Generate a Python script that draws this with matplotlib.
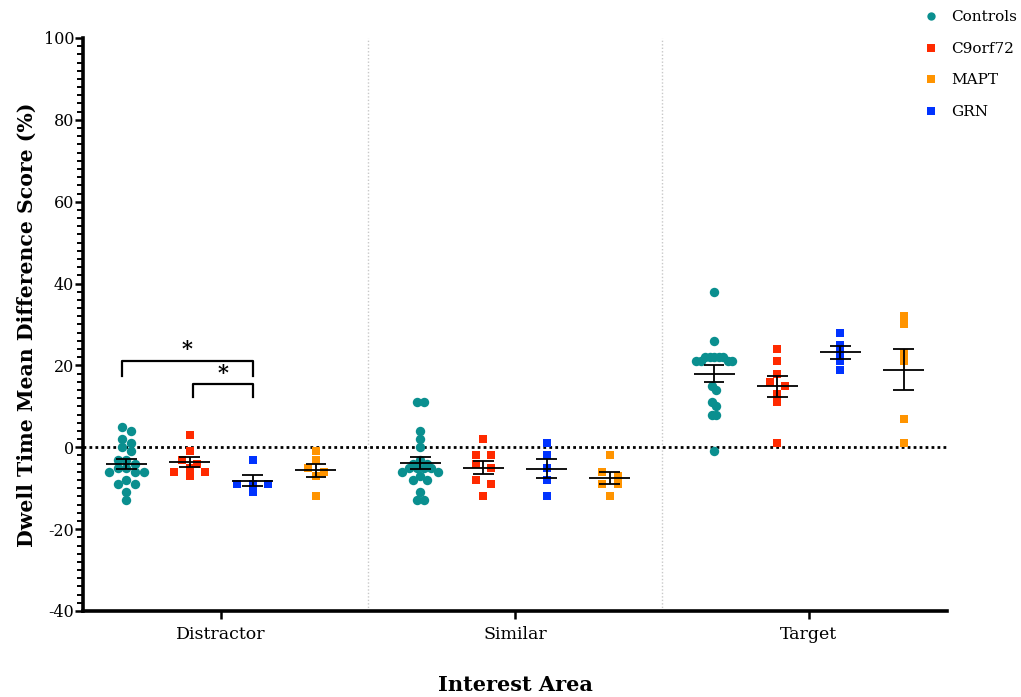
import numpy as np
import matplotlib
matplotlib.use('Agg')
import matplotlib.pyplot as plt
from matplotlib.lines import Line2D

plt.rcParams['font.family'] = ['DejaVu Serif']
plt.rcParams['axes.unicode_minus'] = False

areas = ['Distractor', 'Similar', 'Target']
groups = ['Controls', 'C9orf72', 'GRN', 'MAPT']

# one list per interest area (Distractor, Similar, Target)
controls = [
    [5, 4, 2, 1, 0, -1, -3, -3, -4, -5, -5, -6, -6, -6, -8, -9, -9, -11, -13],
    [11, 11, 4, 2, 0, -3, -4, -4, -5, -5, -5, -5, -6, -6, -7, -8, -8, -11, -13, -13],
    [38, 26, 22, 22, 22, 22, 22, 21, 21, 21, 21, 15, 14, 11, 10, 8, 8, -1],
]
c9orf72 = [
    [3, -1, -3, -4, -5, -6, -6, -7],
    [2, -2, -2, -4, -5, -8, -9, -12],
    [24, 21, 18, 16, 15, 13, 11, 1],
]
grn = [
    [-3, -9, -9, -9, -11],
    [1, -2, -5, -8, -12],
    [28, 25, 23, 21, 19],
]
mapt = [
    [-1, -3, -5, -6, -7, -12],
    [-2, -6, -7, -9, -9, -12],
    [32, 30, 23, 21, 7, 1],
]

data = {'Controls': controls, 'C9orf72': c9orf72, 'GRN': grn, 'MAPT': mapt}
colors = {'Controls': '#0a8f8f', 'C9orf72': '#ff2a00', 'GRN': '#0033ff', 'MAPT': '#ff9400'}
markers = {'Controls': 'o', 'C9orf72': 's', 'GRN': 's', 'MAPT': 's'}
offsets = {'Controls': -0.3225, 'C9orf72': -0.1075, 'GRN': 0.1075, 'MAPT': 0.3225}

XLIM = (-0.47, 2.47)
YLIM = (-40, 100)

fig = plt.figure(figsize=(10.21, 6.97), dpi=100)
ax = fig.add_axes([0.0813, 0.1234, 0.8462, 0.8221])
ax.set_xlim(*XLIM)
ax.set_ylim(*YLIM)

# pixels per x unit, used to spread the points of a column sideways
bbox = ax.get_window_extent()
PPU_X = bbox.width / (XLIM[1] - XLIM[0])


def scatter_offsets(vals, step, max_width=36.0, row_h=2.0):
    # group values into rows (values less than row_h apart share a row),
    # then centre each row sideways; squeeze the step if the widest row is too wide
    order = np.argsort(-np.asarray(vals, float), kind='stable')
    rows = []
    for i in order:
        if rows and vals[rows[-1][0]] - vals[i] < row_h - 1e-9:
            rows[-1].append(i)
        else:
            rows.append([i])
    widest = max(len(r) for r in rows)
    if widest > 1:
        step = min(step, max_width / (widest - 1))
    xs = np.zeros(len(vals))
    for r in rows:
        n = len(r)
        slots = sorted([k - (n - 1) / 2 for k in range(n)], key=lambda p: (abs(p), p))
        for i, p in zip(r, slots):
            xs[i] = p * step
    return xs / PPU_X


# area separators and zero line
for xv in (0.5, 1.5):
    ax.axvline(xv, color='#c8c8c8', ls=(0, (1, 1.5)), lw=1.0, zorder=0)
ax.axhline(0, color='black', ls=(0, (1, 1.15)), lw=2.0, zorder=1)

for ai, area in enumerate(areas):
    for g in groups:
        vals = np.array(data[g][ai], float)
        xc = ai + offsets[g]
        if g == 'Controls':
            dx = scatter_offsets(vals, 8.7)
        else:
            dx = scatter_offsets(vals, 15.5)
        ax.scatter(xc + dx, vals, s=46 if g == 'Controls' else 38, marker=markers[g],
                   color=colors[g], linewidths=0, zorder=2)
        m = vals.mean()
        se = vals.std(ddof=1) / np.sqrt(len(vals))
        ax.hlines(m, xc - 0.07, xc + 0.07, color='black', lw=1.3, zorder=3)
        ax.vlines(xc, m - se, m + se, color='black', lw=1.3, zorder=3)
        ax.hlines([m - se, m + se], xc - 0.035, xc + 0.035, color='black', lw=1.3, zorder=3)

# significance brackets
ax.plot([-0.338, -0.338, 0.1075, 0.1075], [17.5, 21, 21, 17.5], color='black', lw=1.6, zorder=3)
ax.plot([-0.0965, -0.0965, 0.1075, 0.1075], [12.2, 15.5, 15.5, 12.2], color='black', lw=1.6, zorder=3)
ax.text(-0.116, 24.0, '*', ha='center', va='center', fontsize=15, fontweight='bold')
ax.text(0.007, 18.2, '*', ha='center', va='center', fontsize=15, fontweight='bold')

ax.set_xticks(range(len(areas)))
ax.set_xticklabels(areas, fontsize=12.5)
ax.set_yticks(np.arange(-40, 101, 20))
ax.set_yticks(np.arange(-40, 101, 2), minor=True)
ax.tick_params(axis='y', which='major', length=6, width=1.8, labelsize=11.5, pad=0.3)
ax.tick_params(axis='y', which='minor', length=4, width=1.4)
ax.tick_params(axis='x', which='major', length=6, width=1.8, pad=5)
for side in ('top', 'right'):
    ax.spines[side].set_visible(False)
for side in ('left', 'bottom'):
    ax.spines[side].set_linewidth(2.6)

ax.set_ylabel('Dwell Time Mean Difference Score (%)', fontsize=14.7, fontweight='bold', labelpad=5)
ax.set_xlabel('Interest Area', fontsize=15, fontweight='bold', labelpad=23)

handles = [Line2D([], [], ls='none', marker=markers[g], color=colors[g], markersize=6, markeredgewidth=0)
           for g in ['Controls', 'C9orf72', 'MAPT', 'GRN']]
ax.legend(handles, ['Controls', 'C9orf72', 'MAPT', 'GRN'], loc='upper left',
          bbox_to_anchor=(0.898, 0.994), bbox_transform=fig.transFigure, frameon=False,
          fontsize=11, handlelength=1.0, handletextpad=0.85, labelspacing=1.15, borderaxespad=0)

fig.savefig('out.png', dpi=100)
